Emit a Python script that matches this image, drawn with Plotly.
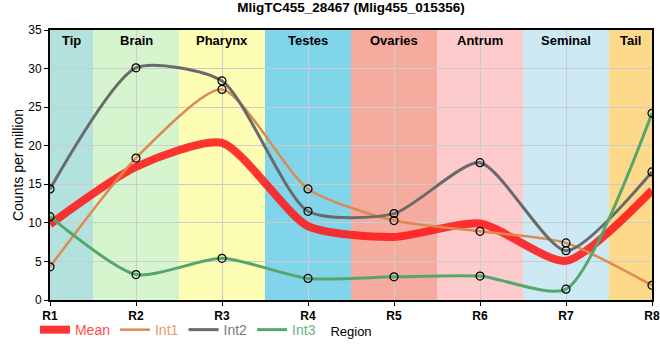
import plotly.graph_objects as go

regions = ["R1", "R2", "R3", "R4", "R5", "R6", "R7", "R8"]
int1 = [4.3, 18.4, 27.3, 14.4, 10.3, 8.9, 7.4, 1.9]
int2 = [14.4, 30.1, 28.4, 11.5, 11.2, 17.8, 6.4, 16.6]
int3 = [10.8, 3.3, 5.4, 2.8, 3.0, 3.1, 1.4, 24.2]
mean = [round((a + b + c) / 3, 2) for a, b, c in zip(int1, int2, int3)]

tissues = ["Tip", "Brain", "Pharynx", "Testes", "Ovaries", "Antrum", "Seminal", "Tail"]
tissue_colors = ["#b3e1dd", "#d6f5ce", "#fdfdb4", "#80d5ea", "#f5ac9f", "#fdcbcc", "#cdeaf4", "#fdd98b"]

x = list(range(1, len(regions) + 1))
FONT = "Liberation Sans, Arial, sans-serif"
NARROW = "Liberation Sans Narrow, Arial Narrow, Liberation Sans, sans-serif"

fig = go.Figure()

series = [
    ("Mean", mean, "rgba(255,25,25,0.88)", "#ff4a4a", 8),
    ("Int1", int1, "#dd8a52", "#e79a68", 2.5),
    ("Int2", int2, "#6a6a6a", "#7a7a7a", 3),
    ("Int3", int3, "#55a66a", "#6db27f", 3),
]
for name, vals, col, tcol, w in series:
    fig.add_trace(go.Scatter(
        x=x, y=vals, mode="lines",
        line=dict(color=col, width=w, shape="spline", smoothing=0.65),
        name=f"<span style='color:{tcol}'>{name}</span>",
    ))
for name, vals, col, tcol, w in series[1:]:
    fig.add_trace(go.Scatter(
        x=x, y=vals, mode="markers", showlegend=False,
        marker=dict(symbol="circle-open", size=8, color="black", line=dict(width=1.2, color="black")),
    ))

shapes = []
annotations = []
for i, (t, c) in enumerate(zip(tissues, tissue_colors)):
    x0 = max(1, x[i] - 0.5)
    x1 = min(len(regions), x[i] + 0.5)
    shapes.append(dict(type="rect", xref="x", yref="paper", x0=x0, x1=x1, y0=0, y1=1,
                       fillcolor=c, line=dict(width=0), layer="below"))
    annotations.append(dict(x=(x0 + x1) / 2, y=1, xref="x", yref="paper", yanchor="top",
                            yshift=-1, text=f"<b>{t}</b>", showarrow=False,
                            font=dict(size=13, color="black", family=FONT)))

fig.update_layout(
    width=660, height=360,
    margin=dict(l=50, r=8, t=30, b=60),
    paper_bgcolor="white", plot_bgcolor="white",
    font=dict(family=FONT, size=11, color="black"),
    title=dict(text="<b>MligTC455_28467 (Mlig455_015356)</b>", x=(50 + 301) / 660, xanchor="center",
               y=1 - 3 / 360, yanchor="top", font=dict(size=13.5, family=NARROW), automargin=False),
    shapes=shapes, annotations=annotations,
    showlegend=True,
    legend=dict(orientation="h", x=-0.025, xanchor="left", y=-0.052, yanchor="top",
                font=dict(size=14, family=FONT), itemwidth=30, tracegroupgap=0,
                bgcolor="rgba(0,0,0,0)"),
    xaxis=dict(range=[1, 8], tickvals=x, ticktext=[f"<b>{r}</b>" for r in regions],
               tickfont=dict(size=12), showgrid=True, gridcolor="#cccccc", gridwidth=1,
               showline=True, linecolor="black", linewidth=2, mirror=True,
               ticks="outside", ticklen=4, tickcolor="black", automargin=False,
               ticklabeloverflow="allow",
               title=dict(text="Region", font=dict(size=13), standoff=4), zeroline=False),
    yaxis=dict(range=[0, 35], dtick=5, showgrid=True, gridcolor="#cccccc", gridwidth=1,
               showline=True, linecolor="black", linewidth=2, mirror=True,
               ticks="outside", ticklen=4, tickcolor="black", automargin=False,
               tickfont=dict(size=12),
               title=dict(text="Counts per million", font=dict(size=14), standoff=1), zeroline=False),
)

fig.write_html("out.html", config={"displayModeBar": False},
               post_script="document.body.style.margin='0px';")
